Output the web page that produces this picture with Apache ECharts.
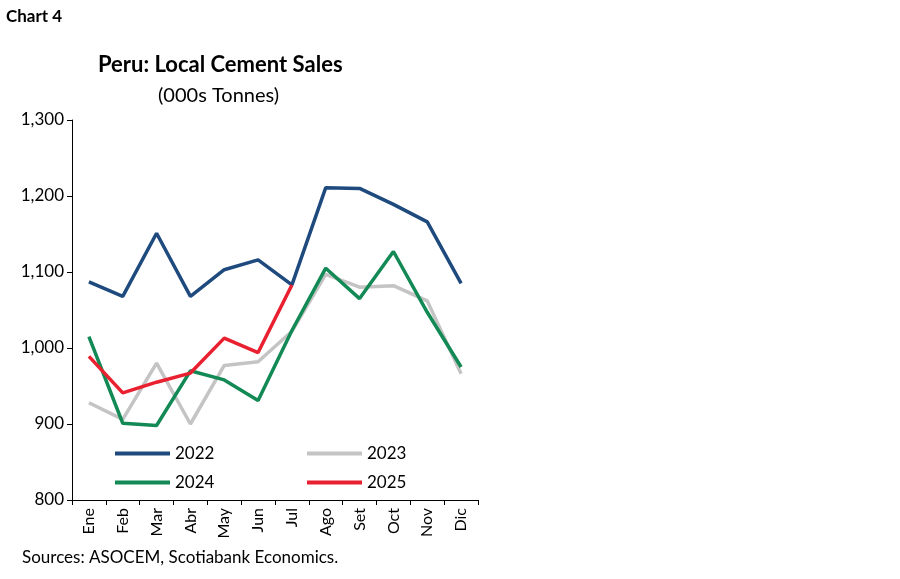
<!DOCTYPE html>
<html><head><meta charset="utf-8">
<script src="https://cdn.jsdelivr.net/npm/echarts@6/dist/echarts.min.js"></script>
<style>html,body{margin:0;padding:0;background:#fff}#c{width:900px;height:579px}</style>
</head><body><div id="c"></div>
<script>
const categories=['Ene','Feb','Mar','Abr','May','Jun','Jul','Ago','Set','Oct','Nov','Dic'];
const s2022=[1087,1068,1151,1068,1103,1116,1083,1211,1210,1189,1166,1085];
const s2023=[928,906,980,900,977,982,1022,1097,1080,1082,1062,966];
const s2024=[1015,901,898,970,958,931,1023,1105,1065,1127,1047,975];
const s2025=[989,941,955,967,1013,994,1083];
const F='Lato';
const chart=echarts.init(document.getElementById('c'));
const mk=(n,d,c)=>({name:n,type:'line',data:d,symbol:'none',lineStyle:{width:3.5,color:c},itemStyle:{color:c},z:n==='2025'?5:3});
chart.setOption({
 animation:false,
 textStyle:{fontFamily:F},
 graphic:[
  {type:'text',left:6,top:8,style:{text:'Chart 4',font:'bold 17px Lato',fill:'#000'}},
  {type:'text',left:98,top:54,style:{text:'Peru: Local Cement Sales',font:'bold 22px Lato',fill:'#000'}},
  {type:'text',left:158,top:86,style:{text:'(000s Tonnes)',font:'20px Lato',fill:'#000'}},
  {type:'text',left:22,top:549,style:{text:'Sources: ASOCEM, Scotiabank Economics.',font:'17px Lato',fill:'#000'}}
 ],
 grid:{left:72,right:422,top:120,bottom:79},
 legend:[
  {data:['2022','2024'],orient:'vertical',left:110,top:440,itemWidth:55,itemHeight:4,itemGap:12,icon:'rect',textStyle:{fontSize:17,fontFamily:F,color:'#000'}},
  {data:['2023','2025'],orient:'vertical',left:302,top:440,itemWidth:55,itemHeight:4,itemGap:12,icon:'rect',textStyle:{fontSize:17,fontFamily:F,color:'#000'}}
 ],
 xAxis:{type:'category',data:categories,boundaryGap:true,
  axisLine:{lineStyle:{color:'#000'}},axisTick:{show:true,alignWithLabel:false,lineStyle:{color:'#000'}},
  axisLabel:{rotate:90,fontSize:16,color:'#000',fontFamily:F,margin:8}},
 yAxis:{type:'value',min:800,max:1300,interval:100,
  axisLine:{show:true,lineStyle:{color:'#000'}},axisTick:{show:true,lineStyle:{color:'#000'}},
  splitLine:{show:false},
  axisLabel:{fontSize:17,color:'#000',fontFamily:F,formatter:v=>v.toLocaleString('en-US')}},
 series:[mk('2022',s2022,'#1f4a7e'),mk('2023',s2023,'#c4c4c4'),mk('2024',s2024,'#138a55'),mk('2025',s2025,'#e8202f')]
});
</script></body></html>
